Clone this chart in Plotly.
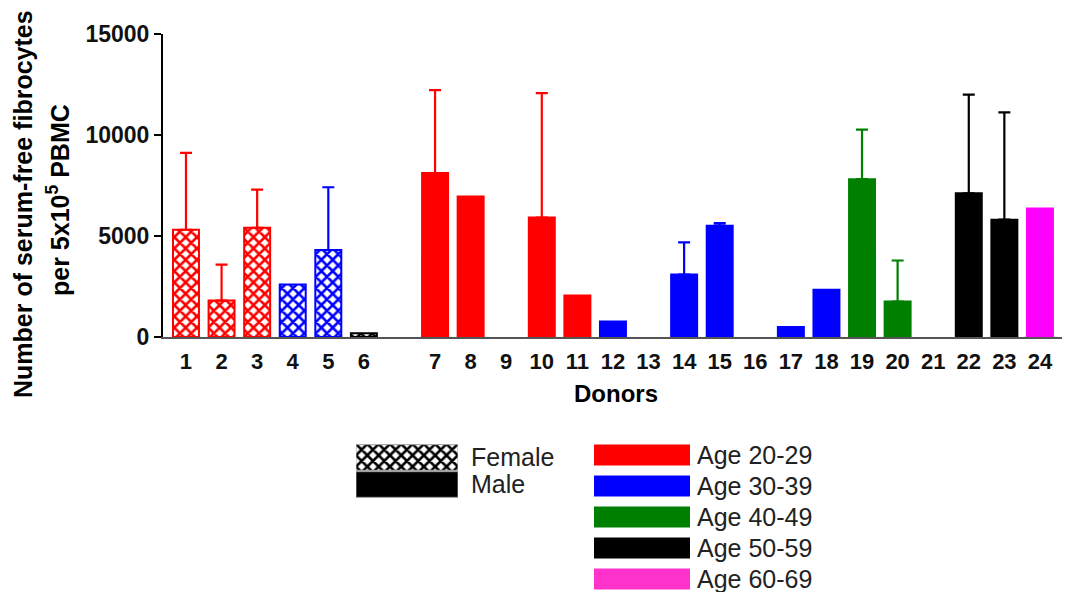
import plotly.graph_objects as go

# ---- data -------------------------------------------------------------
donors = [str(i) for i in range(1, 25)]
fibrocytes = [5300, 1800, 5400, 2600, 4300, 180,
              8100, 6950, 0, 5900, 2050, 770, 0, 3090, 5500, 0,
              500, 2330, 7800, 1750, 0, 7100, 5800, 6350]
sd_upper = [3800, 1780, 1880, 0, 3100, 0,
            4100, 0, 0, 6150, 0, 0, 0, 1590, 130, 0,
            0, 0, 2450, 2030, 0, 4880, 5300, 0]
age_group = ["20-29", "20-29", "20-29", "30-39", "30-39", "50-59",
             "20-29", "20-29", None, "20-29", "20-29", "30-39", None, "30-39", "30-39", None,
             "30-39", "30-39", "40-49", "40-49", None, "50-59", "50-59", "60-69"]
sex = ["Female"] * 6 + ["Male"] * 18

age_groups = ["20-29", "30-39", "40-49", "50-59", "60-69"]
age_colors = {"20-29": "#ff0000", "30-39": "#0000ff", "40-49": "#008000",
              "50-59": "#000000", "60-69": "#ff00ff"}
age_legend_colors = ["#ff0000", "#0000ff", "#008000", "#000000", "#ff33cc"]
sex_labels = ["Female", "Male"]
y_ticks = [0, 5000, 10000, 15000]

# blank slot separating the female and male donors
categories = donors[:6] + [" "] + donors[6:]

FONT = "Liberation Sans, Arial, sans-serif"
W, H = 1065, 592


def checker(fg):
    # staggered white cells on the bar colour (female donors)
    return dict(shape="x", fgcolor=fg, bgcolor="white", size=8, solidity=0.55,
                fillmode="replace")


fig = go.Figure()

for d, v, e, g, s in zip(donors, fibrocytes, sd_upper, age_group, sex):
    if g is None or v == 0:
        continue
    col = age_colors[g]
    marker = dict(color=col, line=dict(color=col, width=2))
    if s == "Female":
        marker["pattern"] = checker(col)
    fig.add_trace(go.Bar(
        x=[d], y=[v], width=0.73, marker=marker,
        error_y=dict(type="data", symmetric=False, array=[e], arrayminus=[0],
                     visible=e > 0, color=col, thickness=2.2, width=6),
        showlegend=False, xaxis="x", yaxis="y"))

# ---- legend blocks drawn as small horizontal bar panels ---------------
fig.add_trace(go.Bar(
    y=[0], x=[1], orientation="h", width=0.95, xaxis="x2", yaxis="y2",
    marker=dict(color="black", line=dict(color="#999999", width=1),
                pattern=checker("black")),
    showlegend=False, hoverinfo="skip"))
fig.add_trace(go.Bar(
    y=[1], x=[1], orientation="h", width=0.95, xaxis="x2", yaxis="y2",
    marker=dict(color="black", line=dict(color="#999999", width=1)),
    showlegend=False, hoverinfo="skip"))

fig.add_trace(go.Bar(
    y=list(range(len(age_groups))), x=[1] * len(age_groups), orientation="h",
    width=0.68, xaxis="x3", yaxis="y3",
    marker=dict(color=age_legend_colors, line=dict(width=0)),
    showlegend=False, hoverinfo="skip"))

px = lambda v: v / W
py = lambda v: 1 - v / H

tick_font = dict(size=22, family=FONT, weight="bold", color="#111111")
legend_font = dict(size=25, family=FONT, color="#222222")

fig.update_layout(
    width=W, height=H,
    margin=dict(l=0, r=0, t=0, b=0, autoexpand=False),
    paper_bgcolor="white", plot_bgcolor="white",
    barmode="overlay",
    font=dict(family=FONT, color="black"),
    xaxis=dict(
        domain=[px(163), px(1062)],
        type="category", categoryorder="array", categoryarray=categories,
        tickvals=donors, ticktext=donors,
        range=[-0.646, 24.62],
        showline=True, linecolor="#555555", linewidth=2,
        ticks="outside", ticklen=4, tickcolor="rgba(0,0,0,0)",
        tickfont=tick_font, automargin=False,
        showgrid=False, zeroline=False, anchor="y",
    ),
    yaxis=dict(
        domain=[py(337), py(33.5)],
        range=[0, 15000],
        tickvals=y_ticks, ticktext=[str(t) for t in y_ticks],
        showline=True, linecolor="black", linewidth=2,
        ticks="outside", ticklen=7, tickwidth=2, tickcolor="black",
        tickfont=dict(tick_font, size=23), automargin=False,
        showgrid=False, zeroline=False, anchor="x",
    ),
    xaxis2=dict(domain=[px(356), px(458)], range=[0, 1], visible=False,
                anchor="y2", automargin=False),
    yaxis2=dict(
        domain=[py(498), py(444)], range=[1.5, -0.5], anchor="x2", side="right",
        tickvals=[0, 1], ticktext=sex_labels, ticks="", showline=False,
        showgrid=False, zeroline=False, ticklabelstandoff=12,
        tickfont=legend_font, automargin=False, ticklabeloverflow="allow",
    ),
    xaxis3=dict(domain=[px(594), px(690)], range=[0, 1], visible=False,
                anchor="y3", automargin=False),
    yaxis3=dict(
        domain=[0, py(439.5)], range=[4.42, -0.5], anchor="x3", side="right",
        tickvals=list(range(len(age_groups))),
        ticktext=["Age " + g for g in age_groups], ticks="", showline=False,
        showgrid=False, zeroline=False, ticklabelstandoff=6,
        tickfont=legend_font, automargin=False, ticklabeloverflow="allow",
    ),
    annotations=[
        dict(text="<b>Number of serum-free fibrocytes</b>", textangle=-90,
             x=px(23), y=py(204), xref="paper", yref="paper",
             xanchor="center", yanchor="middle",
             showarrow=False, font=dict(size=25, family=FONT, color="black")),
        dict(text="<b>per 5x10<sup>5</sup> PBMC</b>", textangle=-90,
             x=px(58), y=py(200), xref="paper", yref="paper",
             xanchor="center", yanchor="middle",
             showarrow=False, font=dict(size=25, family=FONT, color="black")),
        dict(text="<b>Donors</b>", x=px(616), y=py(393), xref="paper", yref="paper",
             xanchor="center", yanchor="middle",
             showarrow=False, font=dict(size=24, family=FONT, color="black")),
    ],
)

fig.write_html("out.html")
